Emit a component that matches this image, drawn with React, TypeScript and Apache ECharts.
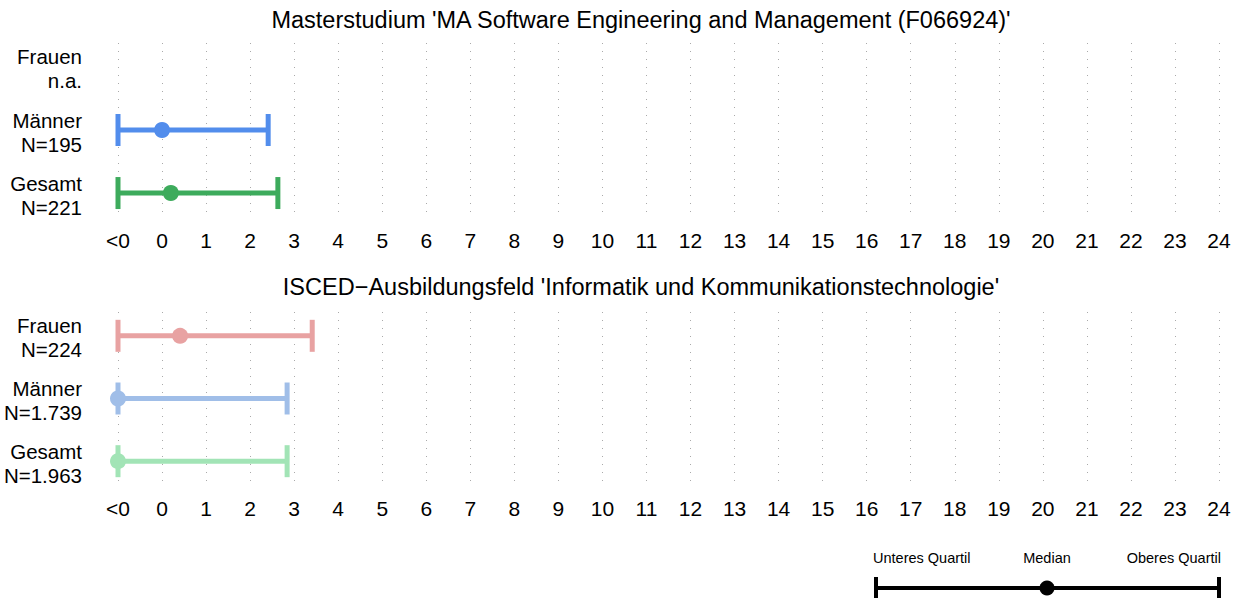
import React, { useEffect, useRef } from "react";
import * as echarts from "echarts";

const tickLabels = ["<0", "0", "1", "2", "3", "4", "5", "6", "7", "8", "9", "10", "11", "12", "13", "14", "15", "16", "17", "18", "19", "20", "21", "22", "23", "24"];
const xMin = -1; // "<0"
const xMax = 24;

const title1 = "Masterstudium 'MA Software Engineering and Management (F066924)'";
const title2 = "ISCED\u2212Ausbildungsfeld 'Informatik und Kommunikationstechnologie'";

const rows1 = ["Frauen\nn.a.", "M\u00e4nner\nN=195", "Gesamt\nN=221"];
const low1 = [null, -1, -1];
const median1 = [null, 0, 0.2];
const high1 = [null, 2.41, 2.63];
const colors1 = ["#E8A0A0", "#528DEC", "#3DAB5C"];

const rows2 = ["Frauen\nN=224", "M\u00e4nner\nN=1.739", "Gesamt\nN=1.963"];
const low2 = [-1, -1, -1];
const median2 = [0.41, -1, -1];
const high2 = [3.41, 2.84, 2.84];
const colors2 = ["#E8A2A2", "#A0BEE8", "#A2E4B6"];

const legendLabels = ["Unteres Quartil", "Median", "Oberes Quartil"];

const FONT = "'Liberation Sans', Arial, Helvetica, sans-serif";

function buildSeries(idx: number, rows: string[], low: any[], med: any[], high: any[], colors: string[]) {
  return {
    type: "custom",
    xAxisIndex: idx,
    yAxisIndex: idx,
    clip: false,
    data: rows.map((_, i) => [i, low[i] ?? NaN, med[i] ?? NaN, high[i] ?? NaN]),
    renderItem: (params: any, api: any) => {
      const i = params.dataIndex;
      const row = api.value(0);
      const lo = api.value(1);
      const md = api.value(2);
      const hi = api.value(3);
      const base = api.coord([xMin, row]);
      const children: any[] = [
        {
          type: "text",
          style: {
            text: rows[i],
            x: 82,
            y: base[1] + 2,
            align: "right",
            verticalAlign: "middle",
            fontSize: 20.5,
            lineHeight: 24,
            fontFamily: FONT,
            fill: "#000",
          },
        },
      ];
      if (!isNaN(lo) && !isNaN(hi)) {
        const pL = api.coord([lo, row]);
        const pH = api.coord([hi, row]);
        const pM = api.coord([md, row]);
        const st = { stroke: colors[i], lineWidth: 5 };
        children.push(
          { type: "line", shape: { x1: pL[0], y1: pL[1], x2: pH[0], y2: pH[1] }, style: st },
          { type: "line", shape: { x1: pL[0], y1: pL[1] - 16, x2: pL[0], y2: pL[1] + 16 }, style: st },
          { type: "line", shape: { x1: pH[0], y1: pH[1] - 16, x2: pH[0], y2: pH[1] + 16 }, style: st },
          { type: "circle", shape: { cx: pM[0], cy: pM[1], r: 8 }, style: { fill: colors[i] } }
        );
      }
      return { type: "group", children };
    },
  };
}

function xAxis(idx: number) {
  return {
    type: "value",
    gridIndex: idx,
    min: xMin,
    max: xMax,
    interval: 1,
    axisLine: { show: false },
    axisTick: { show: false },
    splitLine: { show: true, lineStyle: { color: "#aaaaaa", type: [1, 7], width: 1 } },
    axisLabel: {
      margin: 13,
      fontSize: 21,
      fontFamily: FONT,
      color: "#000",
      formatter: (v: number) => tickLabels[Math.round(v - xMin)] ?? "",
    },
  };
}

function yAxis(idx: number) {
  return {
    type: "value",
    gridIndex: idx,
    inverse: true,
    min: -0.38,
    max: 2.38,
    show: false,
    splitLine: { show: false },
  };
}

export default function App() {
  const ref = useRef<HTMLDivElement>(null);
  useEffect(() => {
    document.body.style.margin = "0";
    const chart = echarts.init(ref.current!, null, { renderer: "svg" });
    const lx1 = 876, lx2 = 1219, lxm = 1047, ly = 588;
    const legendFont = { fontSize: 14.5, fontFamily: FONT, fill: "#000", verticalAlign: "middle" };
    chart.setOption({
      animation: false,
      backgroundColor: "#fff",
      grid: [
        { left: 118, right: 25, top: 43, height: 174 },
        { left: 118, right: 25, top: 312, height: 173 },
      ],
      xAxis: [xAxis(0), xAxis(1)],
      yAxis: [yAxis(0), yAxis(1)],
      series: [
        buildSeries(0, rows1, low1, median1, high1, colors1),
        buildSeries(1, rows2, low2, median2, high2, colors2),
      ],
      graphic: [
        { type: "text", x: 641, y: 20, style: { text: title1, align: "center", verticalAlign: "middle", fontSize: 23.5, fontFamily: FONT, fill: "#000" } },
        { type: "text", x: 641, y: 287, style: { text: title2, align: "center", verticalAlign: "middle", fontSize: 23.5, fontFamily: FONT, fill: "#000" } },
        { type: "line", shape: { x1: lx1, y1: ly, x2: lx2, y2: ly }, style: { stroke: "#000", lineWidth: 4 } },
        { type: "line", shape: { x1: lx1, y1: ly - 11, x2: lx1, y2: ly + 11 }, style: { stroke: "#000", lineWidth: 4 } },
        { type: "line", shape: { x1: lx2, y1: ly - 11, x2: lx2, y2: ly + 11 }, style: { stroke: "#000", lineWidth: 4 } },
        { type: "circle", shape: { cx: lxm, cy: ly, r: 7.5 }, style: { fill: "#000" } },
        { type: "text", x: 873, y: 558, style: { ...legendFont, text: legendLabels[0], align: "left" } },
        { type: "text", x: lxm, y: 558, style: { ...legendFont, text: legendLabels[1], align: "center" } },
        { type: "text", x: 1221, y: 558, style: { ...legendFont, text: legendLabels[2], align: "right" } },
      ],
    });
    return () => chart.dispose();
  }, []);
  return <div ref={ref} style={{ width: 1244, height: 598 }} />;
}
